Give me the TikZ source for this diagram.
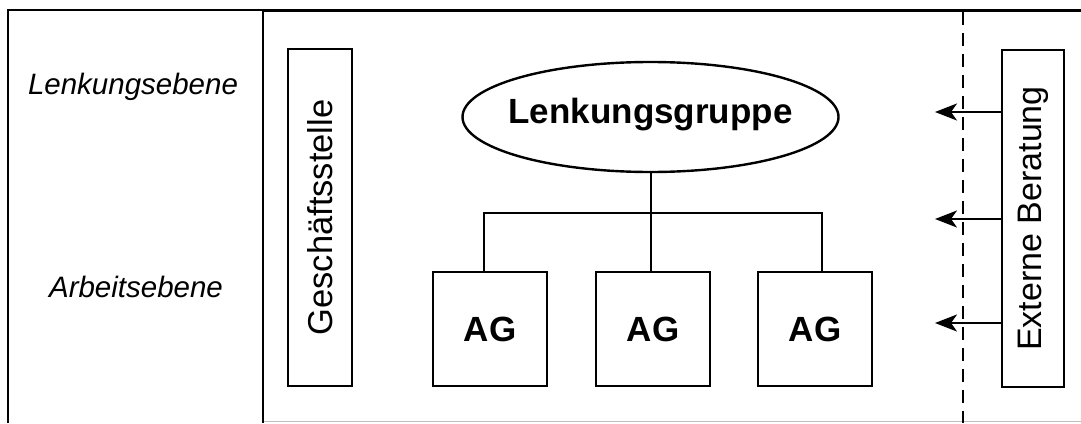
\documentclass[tikz,border=0pt]{standalone}
\usepackage{fontspec}
\setmainfont{Liberation Sans}
\usetikzlibrary{arrows.meta}
\tikzset{
  box/.style={draw, line width=2.4pt, rectangle, inner sep=0pt},
  lvl/.style={font=\fontsize{29.5}{34}\selectfont\itshape, inner sep=0pt, anchor=center},
  conn/.style={line width=2.4pt},
  arr/.style={line width=2.4pt, -{Stealth[length=22pt,width=17pt,inset=6pt]}},
}
\begin{document}
\begin{tikzpicture}[x=1pt,y=-1pt]
\useasboundingbox (0,0) rectangle (1081,423);
% frames
\draw[line width=2.4pt] (8,423) -- (8,10) -- (263,10) -- (263,423);
\draw[line width=3.6pt] (263,10.5) -- (1081,10.5);
\draw[black!25, line width=1.2pt] (264,421.5) -- (1081,421.5);
\draw[line width=2.4pt, dash pattern=on 13pt off 8pt] (963,12) -- (963,423);
% level labels
\node[lvl] (le) at (133,87) {Lenkungsebene};
\node[lvl] (ae) at (136,287) {Arbeitsebene};
% main nodes
\node[box, rotate=90, minimum width=337pt, minimum height=64pt,
      font=\fontsize{34.5}{40}\selectfont] (gs) at (320,217.5) {Geschäftsstelle};
\node[inner sep=0pt, font=\fontsize{35}{40}\selectfont\bfseries] (lg) at (650.5,115) {Lenkungsgruppe};
\draw[conn] (650.5,117) ellipse [x radius=188pt, y radius=55pt];
\coordinate (lgS) at (650.5,172);
\node[box, minimum width=114pt, minimum height=114pt, font=\fontsize{35}{40}\selectfont\bfseries] (ag1) at (490,329) {AG};
\node[box, minimum width=114pt, minimum height=114pt, font=\fontsize{35}{40}\selectfont\bfseries] (ag2) at (653,329) {AG};
\node[box, minimum width=114pt, minimum height=114pt, font=\fontsize{35}{40}\selectfont\bfseries] (ag3) at (815,329) {AG};
\node[box, rotate=90, minimum width=337pt, minimum height=62pt,
      font=\fontsize{34}{40}\selectfont] (ext) at (1033,218.5) {Externe Beratung};
% connectors
\coordinate (busL) at (484,213);
\coordinate (busR) at (822,213);
\coordinate (drop) at (651,213);
\draw[conn] (drop |- lgS) -- (drop |- ag2.north);
\draw[conn] (busL |- ag1.north) -- (busL) -- (busR) -- (busR |- ag3.north);
\coordinate (a1) at (935,112);
\coordinate (a2) at (935,219);
\coordinate (a3) at (935,323);
\draw[arr] (ext.north |- a1) -- (a1);
\draw[arr] (ext.north |- a2) -- (a2);
\draw[arr] (ext.north |- a3) -- (a3);
\end{tikzpicture}
\end{document}
